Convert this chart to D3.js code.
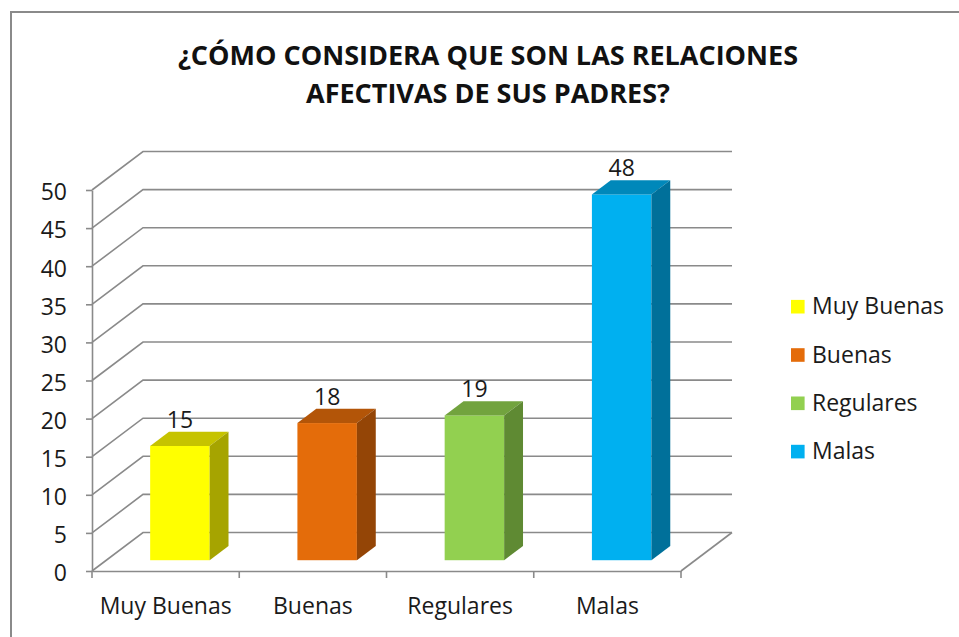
<!DOCTYPE html>
<html>
<head>
<meta charset="utf-8">
<script src="https://cdn.jsdelivr.net/npm/d3@7"></script>
<style>
  body { margin: 0; background: #fff; }
  svg { display: block; font-family: "Open Sans", "Noto Sans", sans-serif; }
</style>
</head>
<body>
<svg id="chart" width="959" height="637"></svg>
<script>
// data
const categories = ["Muy Buenas", "Buenas", "Regulares", "Malas"];
const values = [15, 18, 19, 48];
const frontColors = ["#FFFF00", "#E46C0A", "#92D050", "#00B0F0"];
const topColors = ["#C6C300", "#B35508", "#72A33E", "#0088BA"];
const sideColors = ["#A6A400", "#944506", "#5F8A33", "#00709A"];
const yTicks = [0, 5, 10, 15, 20, 25, 30, 35, 40, 45, 50];
const titleLines = ["¿CÓMO CONSIDERA QUE SON LAS RELACIONES", "AFECTIVAS DE SUS PADRES?"];

const svg = d3.select("#chart");
const gridColor = "#8a8a8a";

// chart frame (cropped on the right / bottom)
svg.append("rect")
  .attr("x", 11).attr("y", 12)
  .attr("width", 980).attr("height", 660)
  .attr("fill", "#fff")
  .attr("stroke", "#8a8a8a")
  .attr("stroke-width", 2);

// title
svg.append("g")
  .selectAll("text")
  .data(titleLines)
  .join("text")
  .attr("x", 488)
  .attr("y", (d, i) => 65 + i * 38)
  .attr("text-anchor", "middle")
  .attr("font-size", 27)
  .attr("font-weight", "bold")
  .attr("fill", "#111")
  .text(d => d);

// scales
const x = d3.scaleBand().domain(categories).range([92, 681]);
const y = d3.scaleLinear().domain([0, 50]).range([571, 190]);
const depth = [51, -38.5]; // 3d depth vector of the plot box

// back wall gridlines + left wall diagonals
svg.append("g")
  .selectAll("polyline")
  .data(yTicks)
  .join("polyline")
  .attr("points", t => {
    const x0 = x.range()[0], yy = y(t);
    return [[x0, yy], [x0 + depth[0], yy + depth[1]], [x.range()[1] + depth[0], yy + depth[1]]].join(" ");
  })
  .attr("fill", "none")
  .attr("stroke", gridColor)
  .attr("stroke-width", 1.6);

// floor right edge
svg.append("line")
  .attr("x1", x.range()[1]).attr("y1", y(0))
  .attr("x2", x.range()[1] + depth[0]).attr("y2", y(0) + depth[1])
  .attr("stroke", gridColor)
  .attr("stroke-width", 1.6);

// y axis
const yAxis = svg.append("g")
  .attr("transform", `translate(${x.range()[0]},0)`)
  .call(d3.axisLeft(y).tickValues(yTicks).tickSize(6).tickSizeOuter(0).tickPadding(19));
yAxis.select(".domain").attr("stroke", gridColor).attr("stroke-width", 1.6);
yAxis.selectAll(".tick line").attr("stroke", gridColor).attr("stroke-width", 1.6);
yAxis.selectAll("text")
  .attr("font-family", "Open Sans")
  .attr("font-size", 23)
  .attr("dy", "0.43em")
  .attr("fill", "#1a1a1a");

// x axis: labels at band centres, ticks at band edges
const xAxis = svg.append("g")
  .attr("transform", `translate(0,${y(0)})`)
  .call(d3.axisBottom(x).tickSize(0).tickSizeOuter(0));
xAxis.select(".domain").attr("stroke", gridColor).attr("stroke-width", 1.6);
xAxis.selectAll("text")
  .attr("font-family", "Open Sans")
  .attr("font-size", 23)
  .attr("y", 43)
  .attr("dy", 0)
  .attr("fill", "#1a1a1a");
xAxis.selectAll("line.edge")
  .data(categories.map(c => x(c)).concat([x.range()[1]]))
  .join("line")
  .attr("class", "edge")
  .attr("x1", d => d).attr("x2", d => d)
  .attr("y1", 0).attr("y2", 7)
  .attr("stroke", gridColor)
  .attr("stroke-width", 1.6);

// 3d bars
const barFront = 0.28;  // depth fraction of the bar front face
const barDepth = 0.37;  // depth fraction covered by the bar
const barW = x.bandwidth() * 0.404;
const bars = categories.map((c, i) => {
  const fx = x(c) + (x.bandwidth() - barW) / 2 + barFront * depth[0];
  const yb = y(0) + barFront * depth[1];
  const yt = y(values[i]) + barFront * depth[1];
  return { c, v: values[i], i, fx, yb, yt };
});
const dx = barDepth * depth[0], dy = barDepth * depth[1];

const bar = svg.append("g")
  .selectAll("g")
  .data(bars)
  .join("g");

bar.append("rect")
  .attr("x", d => d.fx)
  .attr("y", d => d.yt)
  .attr("width", barW)
  .attr("height", d => d.yb - d.yt)
  .attr("fill", d => frontColors[d.i]);

bar.append("polygon")
  .attr("points", d => [[d.fx, d.yt], [d.fx + barW, d.yt], [d.fx + barW + dx, d.yt + dy], [d.fx + dx, d.yt + dy]].join(" "))
  .attr("fill", d => topColors[d.i]);

bar.append("polygon")
  .attr("points", d => [[d.fx + barW, d.yt], [d.fx + barW + dx, d.yt + dy], [d.fx + barW + dx, d.yb + dy], [d.fx + barW, d.yb]].join(" "))
  .attr("fill", d => sideColors[d.i]);

// value labels
bar.append("text")
  .attr("x", d => d.fx + barW / 2)
  .attr("y", d => d.yt - 18)
  .attr("text-anchor", "middle")
  .attr("font-size", 23)
  .attr("fill", "#1a1a1a")
  .text(d => d.v);

// legend
const legend = svg.append("g")
  .selectAll("g")
  .data(categories)
  .join("g")
  .attr("transform", (d, i) => `translate(791,${306.7 + i * 48.3})`);

legend.append("rect")
  .attr("x", 0).attr("y", -6.8)
  .attr("width", 13.6).attr("height", 13.6)
  .attr("fill", (d, i) => frontColors[i]);

legend.append("text")
  .attr("x", 21)
  .attr("y", 7.6)
  .attr("font-size", 23)
  .attr("fill", "#1a1a1a")
  .text(d => d);
</script>
</body>
</html>
